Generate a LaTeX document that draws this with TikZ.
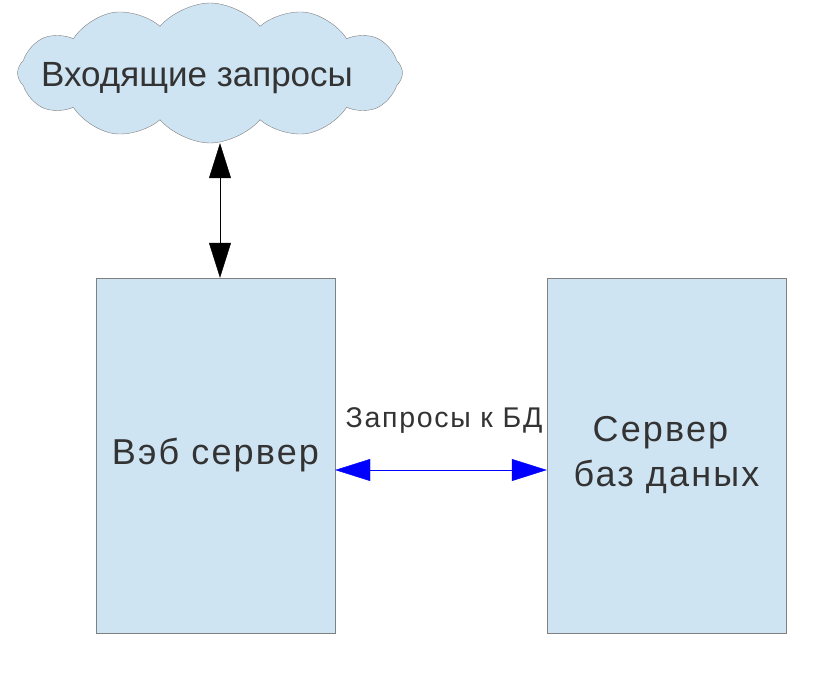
\documentclass[tikz,border=0pt]{standalone}
\usepackage{fontspec}
\setmainfont{Liberation Sans}
\usetikzlibrary{shapes.symbols,arrows.meta}
\definecolor{boxfill}{HTML}{CFE4F3}
\definecolor{boxline}{HTML}{808080}
\definecolor{txt}{HTML}{333333}
\tikzset{
server/.style={draw=boxline,fill=boxfill,minimum width=239pt,minimum height=355pt,text=txt,font=\fontsize{36}{45}\selectfont\addfontfeature{LetterSpace=6},align=center},
bigtip/.style={{Triangle[length=35pt,width=22pt]}-{Triangle[length=35pt,width=22pt]}}
}
\begin{document}
\begin{tikzpicture}[x=1pt,y=-1pt]
\useasboundingbox (0,0) rectangle (829,682);
\node[cloud,cloud puffs=12,cloud puff arc=100,draw=boxline,fill=boxfill,minimum width=385pt,minimum height=140pt,inner sep=0pt] (cloud) at (210,73) {};
\node[text=txt,font=\fontsize{35}{40}\selectfont] (incoming) at (197,78) {Входящие запросы};
\node[server] (web) at (215.5,455.5) {Вэб сервер};
\node[server] (db) at (666.5,455.5) {Сервер\kern12pt\\баз даных};
\node[text=txt,font=\fontsize{28.5}{30}\selectfont\addfontfeature{LetterSpace=6}] (query) at (444,421) {Запросы к БД};
\draw[bigtip,black] ([xshift=4.5pt]web.north) -- ([xshift=4.5pt]web.north |- cloud.south);
\draw[bigtip,blue] ([yshift=-14.5pt]web.east) -- ([yshift=-14.5pt]db.west);
\end{tikzpicture}
\end{document}
